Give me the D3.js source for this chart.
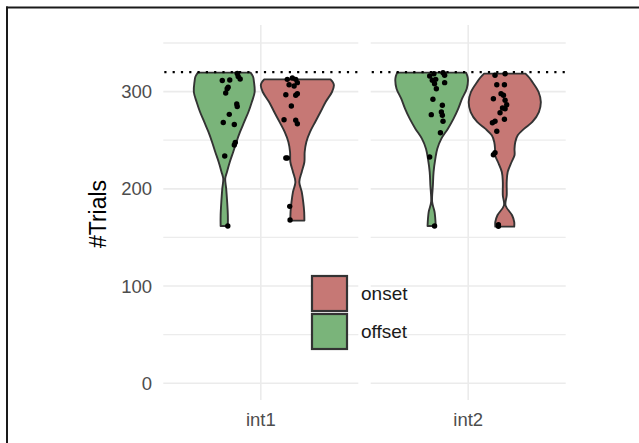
<!DOCTYPE html>
<html>
<head>
<meta charset="utf-8">
<script src="https://cdn.jsdelivr.net/npm/d3@7"></script>
<style>
  body { margin: 0; background: #fff; }
  svg { display: block; font-family: "Liberation Sans", Arial, sans-serif; }
</style>
</head>
<body>
<div id="chart"></div>
<script>
const intervals = ["int1", "int2"];
const phases = ["offset", "onset"];
const legendOrder = ["onset", "offset"];
const phaseColors = { onset: "#c67875", offset: "#7ab47a" };
const majorTicks = [0, 100, 200, 300];
const minorTicks = [50, 150, 250, 350];
const trialCap = 320;

// violin outlines: [trials, relative width]
const int1OffsetShape = [[319.5, 27], [315.5, 29.5], [309.9, 30.5], [299.6, 31.2], [289.3, 28.3], [279, 24.8], [268.8, 20.5], [258.5, 16.2], [248.2, 12.5], [237.9, 9.2], [227.6, 5.7], [217.4, 2.8], [210.5, 1], [200.2, 2], [186.5, 3], [172.8, 3.7], [161.8, 3.7]];
const int1OnsetShape = [[312.6, 34], [309.5, 36.5], [306.5, 37.5], [299.6, 35.5], [289.3, 29], [279, 23.7], [268.8, 18.3], [258.5, 13], [248.2, 9.2], [237.9, 7.5], [227.6, 7.2], [217.4, 4.5], [207.1, 2], [196.8, 4.5], [186.5, 6], [176.2, 7], [167.3, 7.2]];
const int2OffsetShape = [[319.5, 35.3], [315.5, 36.8], [311.6, 37.3], [303, 36], [292.7, 31.2], [282.5, 27.3], [272.2, 22.5], [261.9, 16.7], [251.6, 10], [241.3, 5.8], [231, 3.8], [217.4, 2], [203.6, 1.3], [186.5, 0.5], [176.2, 3], [161.8, 4.2]];
const int2OnsetShape = [[318.5, 21.2], [314.5, 25], [309.9, 28.3], [299.6, 34.7], [289.3, 37], [279, 35], [268.8, 28.3], [261.9, 20], [255, 13.3], [248.2, 10.8], [241.3, 10], [234.5, 10], [227.6, 7], [217.4, 3], [207, 2], [193.4, 2], [183, 0.8], [172.8, 7.5], [165.9, 9.7], [161.1, 9.7]];

// subject points: [trials, horizontal jitter in category units]
const int1OffsetPts = [[318.6, 0.080], [315.5, 0.086], [313, 0.098], [311.4, -0.012], [311.9, 0.034], [304.5, 0.024], [303, 0.018], [298.6, 0.009], [287.3, 0.077], [284.7, 0.080], [276.6, 0.031], [268.2, -0.006], [266.2, 0.062], [247.7, 0.068], [245.1, 0.062], [233.8, 0.003], [161.8, 0.022]];
const int1OnsetPts = [[312.6, -0.062], [314, -0.031], [312.6, -0.010], [309.2, 0], [305.8, -0.020], [307.1, -0.051], [296.8, -0.071], [296.2, -0.010], [297.9, 0], [285.2, -0.037], [271.1, -0.082], [270.5, -0.010], [267, 0], [231.7, -0.071], [231.7, -0.062], [182, -0.047], [168, -0.045]];
const int2OffsetPts = [[316, -0.012], [318.4, 0.014], [319.5, 0.070], [316.8, 0.080], [311.6, 0.004], [312.6, 0.025], [308.1, 0.018], [309.2, 0.080], [303, 0.029], [292.1, 0.008], [285.9, 0.066], [279, 0.060], [276.3, -0.002], [275.6, 0.066], [269.5, 0.070], [257.7, 0.054], [232.7, -0.012], [161.8, 0.018]];
const int2OnsetPts = [[316.8, -0.060], [318.4, 0.002], [307.1, -0.049], [307.1, -0.002], [297.9, -0.023], [292.7, -0.070], [296.2, -0.008], [291.1, 0.002], [286.5, 0.012], [283.1, -0.014], [278.3, -0.029], [282.4, 0.002], [269.5, -0.060], [268, -0.076], [271.5, -0.002], [259.2, -0.049], [235.1, -0.070], [237.2, -0.060], [163.1, -0.039], [161.5, -0.039]];

const groups = [
  { interval: "int1", phase: "offset", shape: int1OffsetShape, pts: int1OffsetPts },
  { interval: "int1", phase: "onset", shape: int1OnsetShape, pts: int1OnsetPts },
  { interval: "int2", phase: "offset", shape: int2OffsetShape, pts: int2OffsetPts },
  { interval: "int2", phase: "onset", shape: int2OnsetShape, pts: int2OnsetPts }
];

const W = 639, H = 443;
const panelLeft = { int1: 163.3, int2: 370.7 };
const panelWidth = 195;
const panelTop = 25, panelBottom = 400;

const svg = d3.select("#chart")
  .append("svg")
    .attr("width", W)
    .attr("height", H);

svg.append("rect").attr("width", W).attr("height", H).attr("fill", "#fff");

const y = d3.scaleLinear()
  .domain([-17.2, 368.5])
  .range([panelBottom, panelTop]);

// dodge inside one category (category sits at 1)
const dodge = d3.scaleBand()
  .domain(phases)
  .range([0.55, 1.45]);

const allWidths = groups.flatMap(g => g.shape.map(d => d[1]));
const widthScale = d3.scaleLinear()
  .domain([0, d3.max(allWidths)])
  .range([0, dodge.bandwidth() / 2]);

function panelX(interval) {
  return d3.scaleLinear()
    .domain([0.4, 1.6])
    .range([panelLeft[interval], panelLeft[interval] + panelWidth]);
}

//panels: grid
intervals.forEach(iv => {
  const x = panelX(iv);
  const p = svg.append("g");

  p.selectAll(".minor")
    .data(minorTicks)
    .enter()
    .append("line")
      .attr("x1", x(0.4)).attr("x2", x(1.6))
      .attr("y1", d => y(d)).attr("y2", d => y(d))
      .style("stroke", "#ececec")
      .style("stroke-width", 1.3);

  p.selectAll(".major")
    .data(majorTicks)
    .enter()
    .append("line")
      .attr("x1", x(0.4)).attr("x2", x(1.6))
      .attr("y1", d => y(d)).attr("y2", d => y(d))
      .style("stroke", "#ebebeb")
      .style("stroke-width", 1.6);

  p.append("line")
    .attr("x1", x(1)).attr("x2", x(1))
    .attr("y1", panelTop).attr("y2", panelBottom)
    .style("stroke", "#ebebeb")
    .style("stroke-width", 1.6);

  //x tick label
  svg.append("text")
    .attr("x", x(1))
    .attr("y", 426)
    .attr("text-anchor", "middle")
    .style("font-size", "18.5px")
    .style("fill", "#4d4d4d")
    .text(iv);
});

//violins
groups.forEach(g => {
  const x = panelX(g.interval);
  const cx = dodge(g.phase) + dodge.bandwidth() / 2;

  const area = d3.area()
    .y(d => y(d[0]))
    .x0(d => x(cx - widthScale(d[1])))
    .x1(d => x(cx + widthScale(d[1])))
    .curve(d3.curveCatmullRom);

  svg.append("path")
    .datum(g.shape)
    .attr("d", area)
    .style("fill", phaseColors[g.phase])
    .style("stroke", "#333")
    .style("stroke-width", 1.9)
    .style("stroke-linejoin", "round");
});

//dotted line at the trial cap
intervals.forEach(iv => {
  const x = panelX(iv);
  svg.append("line")
    .attr("x1", x(0.4) + 1).attr("x2", x(1.6))
    .attr("y1", y(trialCap)).attr("y2", y(trialCap))
    .style("stroke", "#000")
    .style("stroke-width", 2.2)
    .style("stroke-dasharray", "2.2,6.1");
});

//points
groups.forEach(g => {
  const x = panelX(g.interval);
  const cx = dodge(g.phase) + dodge.bandwidth() / 2;

  svg.selectAll("whatever")
    .data(g.pts)
    .enter()
    .append("circle")
      .attr("cx", d => x(cx + d[1]))
      .attr("cy", d => y(d[0]))
      .attr("r", 2.7)
      .style("fill", "#000");
});

//y axis labels
svg.append("g")
  .selectAll("text")
  .data(majorTicks)
  .enter()
  .append("text")
    .attr("x", 152)
    .attr("y", d => y(d))
    .attr("dy", "0.36em")
    .attr("text-anchor", "end")
    .style("font-size", "18.5px")
    .style("fill", "#4d4d4d")
    .text(d => d);

//y title
svg.append("text")
  .attr("transform", "translate(106,214) rotate(-90)")
  .attr("text-anchor", "middle")
  .style("font-size", "23px")
  .style("fill", "#000")
  .text("#Trials");

//legend
const legend = svg.append("g");
const keySize = 35;

legend.selectAll("rect")
  .data(legendOrder)
  .enter()
  .append("rect")
    .attr("x", 312)
    .attr("y", (d, i) => 276 + i * (keySize + 3))
    .attr("width", keySize)
    .attr("height", keySize)
    .style("fill", d => phaseColors[d])
    .style("stroke", "#333")
    .style("stroke-width", 2.2);

legend.selectAll("text")
  .data(legendOrder)
  .enter()
  .append("text")
    .attr("x", 361)
    .attr("y", (d, i) => 276 + i * (keySize + 3) + keySize / 2)
    .attr("dy", "0.36em")
    .style("font-size", "19px")
    .style("fill", "#1a1a1a")
    .text(d => d);

//outer frame (left and top edges only)
svg.append("line")
  .attr("x1", 6).attr("x2", W)
  .attr("y1", 7.5).attr("y2", 7.5)
  .style("stroke", "#1a1a1a")
  .style("stroke-width", 2);

svg.append("line")
  .attr("x1", 7).attr("x2", 7)
  .attr("y1", 6.5).attr("y2", H)
  .style("stroke", "#1a1a1a")
  .style("stroke-width", 2);
</script>
</body>
</html>
